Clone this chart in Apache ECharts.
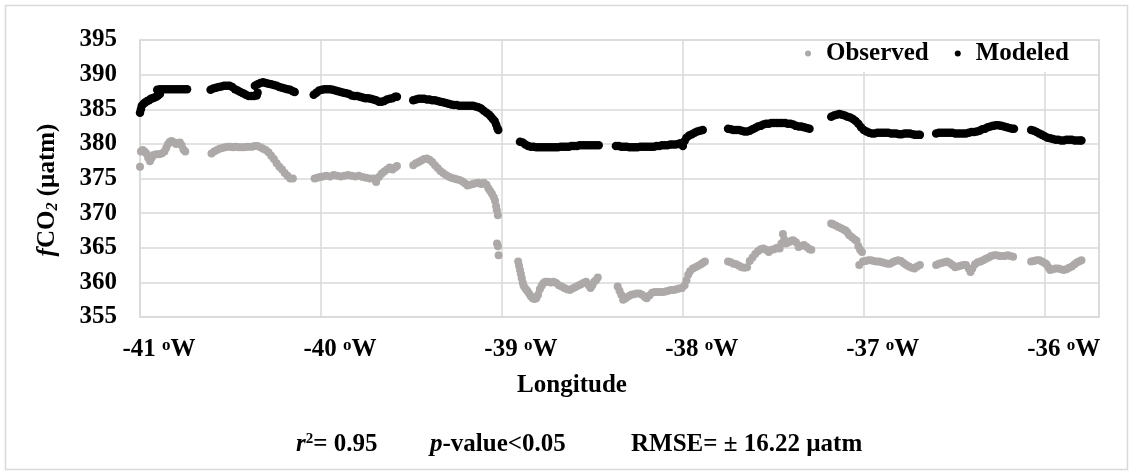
<!DOCTYPE html>
<html>
<head>
<meta charset="utf-8">
<script src="https://cdn.jsdelivr.net/npm/echarts@6/dist/echarts.min.js"></script>
<style>
html,body{margin:0;padding:0;background:#fff;}
#chart{width:1134px;height:475px;}
</style>
</head>
<body>
<div id="chart"></div>
<script>
// ---- Data (longitude in degrees, fCO2 in µatm) ----
const seriesNames = ['Observed', 'Modeled'];
const xTicks = [-41, -40, -39, -38, -37, -36];
const yTicks = [355, 360, 365, 370, 375, 380, 385, 390, 395];

const observed = [
 [-41.00,376.7],[-40.995,378.9],[-40.985,379.1],[-40.975,378.9],[-40.965,378.6],[-40.955,378.0],[-40.945,377.5],[-40.935,378.0],[-40.925,378.4],[-40.91,378.5],[-40.895,378.5],[-40.88,378.6],[-40.865,378.9],[-40.855,379.4],[-40.845,380.0],[-40.835,380.3],[-40.825,380.4],[-40.81,380.2],[-40.80,380.0],[-40.79,380.1],[-40.78,380.2],[-40.77,379.8],[-40.76,379.2],[-40.75,378.9],
 [-40.605,378.6],[-40.59,378.9],[-40.575,379.1],[-40.56,379.3],[-40.545,379.4],[-40.53,379.5],[-40.515,379.6],[-40.50,379.6],[-40.485,379.5],[-40.47,379.6],[-40.455,379.5],[-40.44,379.5],[-40.425,379.5],[-40.41,379.6],[-40.395,379.6],[-40.38,379.6],[-40.365,379.7],[-40.35,379.7],[-40.335,379.5],[-40.32,379.3],[-40.305,379.1],[-40.29,378.8],[-40.275,378.3],[-40.26,377.8],[-40.245,377.2],[-40.23,376.7],[-40.215,376.3],[-40.20,375.8],[-40.185,375.4],[-40.17,375.0],[-40.155,375.0],
 [-40.035,375.0],[-40.02,375.1],[-40.005,375.2],[-39.99,375.3],[-39.97,375.4],[-39.95,375.3],[-39.93,375.5],[-39.91,375.4],[-39.89,375.3],[-39.87,375.4],[-39.85,375.5],[-39.83,375.4],[-39.81,375.3],[-39.79,375.4],[-39.77,375.2],[-39.75,375.1],[-39.73,375.0],[-39.71,375.0],[-39.695,374.5],[-39.68,375.2],[-39.665,375.7],[-39.65,376.0],[-39.635,376.3],[-39.62,376.6],[-39.605,376.3],[-39.59,376.6],[-39.58,376.8],
 [-39.49,376.9],[-39.475,377.2],[-39.46,377.4],[-39.445,377.6],[-39.43,377.8],[-39.415,377.9],[-39.40,377.7],[-39.385,377.4],[-39.37,376.9],[-39.355,376.5],[-39.34,376.1],[-39.325,375.8],[-39.31,375.5],[-39.295,375.3],[-39.28,375.1],[-39.265,375.0],[-39.25,374.9],[-39.235,374.8],[-39.22,374.6],[-39.205,374.3],[-39.19,374.0],[-39.175,374.1],[-39.16,374.2],[-39.145,374.3],[-39.13,374.4],[-39.115,374.2],[-39.10,374.4],[-39.085,374.1],[-39.075,373.6],[-39.065,373.2],[-39.055,372.8],[-39.045,372.3],[-39.038,371.8],[-39.032,371.0],[-39.028,370.4],[-39.022,369.7],
 [-39.027,365.6],[-39.022,365.2],[-39.018,363.9],
 [-38.91,363.0],[-38.905,362.4],[-38.90,361.8],[-38.895,361.2],[-38.89,360.6],[-38.885,360.0],[-38.88,359.5],[-38.87,359.1],[-38.86,358.8],[-38.85,358.4],[-38.84,358.0],[-38.83,357.7],[-38.82,357.6],[-38.81,357.7],[-38.80,358.2],[-38.79,359.0],[-38.78,359.5],[-38.77,359.9],[-38.76,360.1],[-38.745,360.1],[-38.73,360.0],[-38.715,360.1],[-38.70,359.9],[-38.685,359.6],[-38.67,359.4],[-38.655,359.2],[-38.64,359.0],[-38.625,358.9],[-38.61,359.1],[-38.595,359.3],[-38.58,359.5],[-38.565,359.7],[-38.55,359.9],[-38.535,360.1],[-38.52,359.6],[-38.51,359.2],[-38.50,359.6],[-38.49,360.1],[-38.48,360.3],[-38.47,360.7],
 [-38.36,359.4],[-38.35,358.8],[-38.34,358.2],[-38.33,357.5],[-38.315,357.7],[-38.30,358.0],[-38.285,358.2],[-38.27,358.3],[-38.255,358.4],[-38.24,358.4],[-38.225,358.2],[-38.21,357.9],[-38.20,357.7],[-38.185,358.1],[-38.17,358.5],[-38.155,358.6],[-38.14,358.6],[-38.125,358.6],[-38.11,358.6],[-38.095,358.7],[-38.08,358.8],[-38.065,358.9],[-38.05,358.9],[-38.035,359.0],[-38.02,359.1],[-38.005,359.2],[-37.99,359.6],[-37.98,360.3],[-37.97,361.1],[-37.96,361.6],[-37.945,362.0],[-37.93,362.2],[-37.915,362.4],[-37.90,362.6],[-37.89,362.8],[-37.878,363.0],
 [-37.75,363.0],[-37.735,362.9],[-37.72,362.7],[-37.705,362.6],[-37.69,362.4],[-37.675,362.2],[-37.66,362.1],[-37.645,362.2],[-37.63,363.1],[-37.615,363.6],[-37.60,364.1],[-37.585,364.5],[-37.57,364.8],[-37.555,364.9],[-37.54,364.7],[-37.525,364.4],[-37.51,364.7],[-37.495,364.8],[-37.48,365.0],[-37.465,364.9],[-37.455,365.6],[-37.447,367.0],[-37.44,366.2],[-37.43,365.6],[-37.415,365.8],[-37.40,366.0],[-37.39,366.1],[-37.375,365.8],[-37.36,365.1],[-37.345,365.3],[-37.33,365.4],[-37.315,365.1],[-37.30,364.8],[-37.29,364.7],
 [-37.18,368.5],[-37.17,368.4],[-37.155,368.2],[-37.14,368.0],[-37.125,367.8],[-37.11,367.6],[-37.10,367.5],[-37.09,367.2],[-37.08,366.8],[-37.065,366.5],[-37.05,366.2],[-37.04,366.0],[-37.03,365.2],[-37.02,364.7],[-37.01,364.4],[-37.025,362.5],[-37.005,363.0],[-36.99,363.1],[-36.975,363.2],[-36.96,363.2],[-36.945,363.1],[-36.93,363.0],[-36.915,363.0],[-36.90,362.9],[-36.885,362.8],[-36.87,362.7],[-36.855,362.7],[-36.84,362.9],[-36.825,363.1],[-36.81,363.2],[-36.795,363.1],[-36.78,362.8],[-36.765,362.5],[-36.75,362.3],[-36.735,362.1],[-36.72,362.0],[-36.705,362.3],[-36.69,362.5],
 [-36.60,362.5],[-36.585,362.7],[-36.57,362.8],[-36.555,362.9],[-36.54,363.0],[-36.525,362.8],[-36.51,362.5],[-36.495,362.2],[-36.48,362.3],[-36.465,362.4],[-36.45,362.5],[-36.435,362.5],[-36.42,362.0],[-36.41,361.5],[-36.40,362.0],[-36.385,362.6],[-36.37,362.9],[-36.355,363.0],[-36.34,363.2],[-36.325,363.4],[-36.31,363.6],[-36.295,363.8],[-36.28,363.9],[-36.265,363.9],[-36.25,363.8],[-36.235,363.8],[-36.22,363.8],[-36.205,363.9],[-36.19,363.8],[-36.175,363.7],
 [-36.075,363.0],[-36.06,363.1],[-36.045,363.2],[-36.03,363.2],[-36.015,363.0],[-36.00,362.8],[-35.99,362.6],[-35.98,362.2],[-35.97,361.8],[-35.955,361.9],[-35.94,362.0],[-35.925,362.0],[-35.91,361.9],[-35.895,361.8],[-35.88,361.9],[-35.865,362.1],[-35.85,362.3],[-35.835,362.6],[-35.82,362.9],[-35.805,363.1],[-35.797,363.2]
];

const modeled = [
 [-41.00,384.5],[-40.995,385.0],[-40.99,385.5],[-40.98,385.8],[-40.97,386.0],[-40.96,386.2],[-40.95,386.3],[-40.94,386.5],[-40.93,386.6],[-40.92,386.7],[-40.91,386.8],[-40.90,387.0],[-40.89,387.2],[-40.905,387.8],[-40.89,387.9],[-40.875,387.9],[-40.86,387.9],[-40.845,387.9],[-40.83,387.9],[-40.815,387.9],[-40.80,387.9],[-40.785,387.9],[-40.77,387.9],[-40.755,387.9],[-40.74,387.9],
 [-40.61,387.8],[-40.595,388.0],[-40.58,388.1],[-40.565,388.2],[-40.55,388.3],[-40.535,388.4],[-40.52,388.4],[-40.505,388.4],[-40.49,388.2],[-40.475,387.9],[-40.46,387.7],[-40.445,387.5],[-40.43,387.3],[-40.415,387.1],[-40.40,386.9],[-40.385,386.9],[-40.37,386.9],[-40.355,387.0],[-40.35,387.4],
 [-40.365,388.4],[-40.35,388.6],[-40.335,388.8],[-40.32,388.9],[-40.305,388.8],[-40.29,388.7],[-40.275,388.6],[-40.26,388.5],[-40.245,388.4],[-40.23,388.2],[-40.215,388.1],[-40.20,388.0],[-40.185,387.9],[-40.17,387.8],[-40.155,387.6],[-40.145,387.5],
 [-40.04,387.1],[-40.025,387.4],[-40.01,387.7],[-39.995,387.8],[-39.98,387.9],[-39.965,387.9],[-39.95,387.9],[-39.935,387.8],[-39.92,387.7],[-39.905,387.6],[-39.89,387.5],[-39.875,387.4],[-39.86,387.3],[-39.845,387.2],[-39.83,387.0],[-39.815,386.9],[-39.80,386.9],[-39.785,386.8],[-39.77,386.7],[-39.755,386.6],[-39.74,386.6],[-39.725,386.5],[-39.71,386.4],[-39.695,386.3],[-39.68,386.1],[-39.665,386.1],[-39.65,386.2],[-39.635,386.4],[-39.62,386.5],[-39.605,386.6],[-39.59,386.8],[-39.58,386.8],
 [-39.49,386.3],[-39.475,386.4],[-39.46,386.5],[-39.445,386.5],[-39.43,386.5],[-39.415,386.4],[-39.40,386.4],[-39.385,386.3],[-39.37,386.3],[-39.355,386.2],[-39.34,386.1],[-39.325,386.0],[-39.31,385.9],[-39.295,385.8],[-39.28,385.7],[-39.265,385.6],[-39.25,385.6],[-39.235,385.5],[-39.22,385.5],[-39.205,385.5],[-39.19,385.5],[-39.175,385.5],[-39.16,385.5],[-39.145,385.4],[-39.13,385.3],[-39.115,385.1],[-39.10,384.8],[-39.085,384.5],[-39.07,384.2],[-39.06,383.9],[-39.05,383.6],[-39.04,383.3],[-39.032,382.8],[-39.025,382.3],[-39.02,382.0],
 [-38.90,380.3],[-38.885,380.2],[-38.87,379.9],[-38.855,379.7],[-38.84,379.6],[-38.825,379.6],[-38.81,379.5],[-38.795,379.5],[-38.78,379.5],[-38.765,379.5],[-38.75,379.5],[-38.735,379.5],[-38.72,379.5],[-38.705,379.5],[-38.69,379.5],[-38.675,379.6],[-38.66,379.6],[-38.645,379.6],[-38.63,379.6],[-38.615,379.7],[-38.60,379.7],[-38.585,379.7],[-38.57,379.8],[-38.555,379.8],[-38.54,379.8],[-38.525,379.8],[-38.51,379.8],[-38.495,379.8],[-38.48,379.8],[-38.465,379.8],
 [-38.37,379.7],[-38.355,379.7],[-38.34,379.6],[-38.325,379.6],[-38.31,379.6],[-38.295,379.5],[-38.28,379.5],[-38.265,379.5],[-38.25,379.5],[-38.235,379.6],[-38.22,379.6],[-38.205,379.6],[-38.19,379.6],[-38.175,379.6],[-38.16,379.6],[-38.145,379.7],[-38.13,379.7],[-38.115,379.8],[-38.10,379.8],[-38.085,379.8],[-38.07,379.9],[-38.055,379.9],[-38.04,379.9],[-38.025,380.0],[-38.015,380.1],[-38.00,379.7],[-37.99,380.4],[-37.98,380.9],[-37.965,381.2],[-37.95,381.4],[-37.935,381.6],[-37.92,381.8],[-37.905,381.9],[-37.89,382.0],
 [-37.75,382.2],[-37.735,382.1],[-37.72,382.0],[-37.705,382.0],[-37.69,382.0],[-37.675,381.9],[-37.66,381.8],[-37.645,381.8],[-37.63,381.9],[-37.615,382.1],[-37.60,382.3],[-37.585,382.5],[-37.57,382.6],[-37.555,382.8],[-37.54,382.9],[-37.525,382.9],[-37.51,383.0],[-37.495,383.0],[-37.48,383.0],[-37.465,383.0],[-37.45,383.0],[-37.435,383.0],[-37.42,382.9],[-37.405,382.9],[-37.39,382.8],[-37.375,382.6],[-37.36,382.5],[-37.345,382.5],[-37.33,382.4],[-37.315,382.3],[-37.30,382.2],
 [-37.18,383.9],[-37.165,384.1],[-37.15,384.2],[-37.135,384.3],[-37.12,384.2],[-37.105,384.1],[-37.09,383.9],[-37.075,383.8],[-37.06,383.6],[-37.045,383.3],[-37.03,382.9],[-37.015,382.4],[-37.00,382.0],[-36.985,381.8],[-36.97,381.6],[-36.955,381.5],[-36.94,381.5],[-36.925,381.6],[-36.91,381.6],[-36.895,381.6],[-36.88,381.6],[-36.865,381.6],[-36.85,381.5],[-36.835,381.5],[-36.82,381.5],[-36.805,381.4],[-36.79,381.4],[-36.775,381.5],[-36.76,381.5],[-36.745,381.5],[-36.73,381.4],[-36.715,381.3],[-36.70,381.3],[-36.69,381.3],
 [-36.60,381.5],[-36.585,381.6],[-36.57,381.6],[-36.555,381.6],[-36.54,381.6],[-36.525,381.6],[-36.51,381.6],[-36.495,381.5],[-36.48,381.5],[-36.465,381.5],[-36.45,381.5],[-36.435,381.5],[-36.42,381.6],[-36.405,381.7],[-36.39,381.7],[-36.375,381.8],[-36.36,381.9],[-36.345,382.1],[-36.33,382.2],[-36.315,382.4],[-36.30,382.5],[-36.285,382.6],[-36.27,382.7],[-36.255,382.7],[-36.24,382.6],[-36.225,382.5],[-36.21,382.4],[-36.195,382.3],[-36.18,382.2],[-36.17,382.2],
 [-36.075,382.0],[-36.06,381.9],[-36.045,381.7],[-36.03,381.5],[-36.015,381.3],[-36.00,381.1],[-35.985,380.9],[-35.97,380.8],[-35.955,380.7],[-35.94,380.6],[-35.925,380.6],[-35.91,380.5],[-35.895,380.5],[-35.88,380.6],[-35.865,380.6],[-35.85,380.6],[-35.835,380.5],[-35.82,380.5],[-35.805,380.5],[-35.797,380.5]
];

// ---- Chart ----
const FONT = '"Liberation Serif", "Times New Roman", serif';
const GRID_COLOR = '#d9d9d9';
const chart = echarts.init(document.getElementById('chart'), null, {renderer: 'canvas'});

chart.setOption({
  animation: false,
  backgroundColor: '#ffffff',
  textStyle: {fontFamily: FONT},
  grid: {
    left: 140, right: 35, top: 40, bottom: 158,
    containLabel: false,
    show: true, borderColor: GRID_COLOR, borderWidth: 1.5
  },
  legend: {
    data: seriesNames,
    left: 782, top: 41,
    padding: [0, 20, 6, 23],
    backgroundColor: '#ffffff',
    icon: 'circle',
    itemWidth: 26, itemHeight: 6, itemGap: 26,
    textStyle: {fontFamily: FONT, fontWeight: 'bold', fontSize: 25, color: '#000'}
  },
  xAxis: {
    type: 'value',
    min: xTicks[0], max: -35.7, interval: 1,
    axisLine: {show: false},
    axisTick: {show: false},
    splitLine: {show: true, lineStyle: {color: GRID_COLOR, width: 1.5}},
    axisLabel: {
      margin: 20,
      showMaxLabel: false,
      padding: [0, 0, 0, 38],
      formatter: v => xTicks.includes(v) ? '{a|' + v + ' }{s|o}{a|W}' : '',
      rich: {
        a: {fontFamily: FONT, fontWeight: 'bold', fontSize: 25, color: '#000', lineHeight: 26},
        s: {fontFamily: FONT, fontWeight: 'bold', fontSize: 17, color: '#000', lineHeight: 26, verticalAlign: 'top', padding: [0, 0, 9, 0]}
      }
    }
  },
  yAxis: {
    type: 'value',
    min: yTicks[0], max: yTicks[yTicks.length - 1], interval: 5,
    axisLine: {show: false},
    axisTick: {show: false},
    splitLine: {show: true, lineStyle: {color: GRID_COLOR, width: 1.5}},
    axisLabel: {margin: 23, fontFamily: FONT, fontWeight: 'bold', fontSize: 25, color: '#000'}
  },
  series: [
    {name: seriesNames[0], type: 'scatter', data: observed, symbol: 'circle', symbolSize: 8,
     itemStyle: {color: '#ADA9A9', opacity: 1}},
    {name: seriesNames[1], type: 'scatter', data: modeled, symbol: 'circle', symbolSize: 8.5,
     itemStyle: {color: '#000000', opacity: 1}}
  ],
  graphic: [
    {type: 'rect', z: -10, silent: true, shape: {x: 5.5, y: 5.5, width: 1122, height: 464},
     style: {fill: 'none', stroke: GRID_COLOR, lineWidth: 1.5}},
    {type: 'text', x: 48, y: 190, rotation: Math.PI / 2, silent: true,
     style: {
       text: '{i|f}{n|CO}{sub|2}{n| (µatm)}',
       align: 'center', verticalAlign: 'middle',
       rich: {
         i: {fontFamily: FONT, fontStyle: 'italic', fontWeight: 'bold', fontSize: 25, fill: '#000', lineHeight: 26},
         n: {fontFamily: FONT, fontWeight: 'bold', fontSize: 25, fill: '#000', lineHeight: 26},
         sub: {fontFamily: FONT, fontWeight: 'bold', fontStyle: 'italic', fontSize: 16, fill: '#000', lineHeight: 26, verticalAlign: 'bottom', padding: [8, 0, 0, 0]}
       }
     }},
    {type: 'text', x: 572, y: 386, silent: true,
     style: {text: 'Longitude', fontFamily: FONT, fontWeight: 'bold', fontSize: 25, fill: '#000', align: 'center', verticalAlign: 'middle'}},
    {type: 'text', x: 296, y: 445, silent: true,
     style: {
       text: '{i|r}{sup|2}{n|= 0.95}', align: 'left', verticalAlign: 'middle',
       rich: {
         i: {fontFamily: FONT, fontStyle: 'italic', fontWeight: 'bold', fontSize: 25, fill: '#000', lineHeight: 26},
         sup: {fontFamily: FONT, fontWeight: 'bold', fontSize: 15, fill: '#000', lineHeight: 26, verticalAlign: 'top', padding: [0, 0, 10, 0]},
         n: {fontFamily: FONT, fontWeight: 'bold', fontSize: 25, fill: '#000', lineHeight: 26}
       }
     }},
    {type: 'text', x: 430, y: 445, silent: true,
     style: {
       text: '{i|p}{n|-value<0.05}', align: 'left', verticalAlign: 'middle',
       rich: {
         i: {fontFamily: FONT, fontStyle: 'italic', fontWeight: 'bold', fontSize: 25, fill: '#000', lineHeight: 26},
         n: {fontFamily: FONT, fontWeight: 'bold', fontSize: 25, fill: '#000', lineHeight: 26}
       }
     }},
    {type: 'text', x: 631, y: 445, silent: true,
     style: {text: 'RMSE= ± 16.22 µatm', fontFamily: FONT, fontWeight: 'bold', fontSize: 25, fill: '#000', align: 'left', verticalAlign: 'middle'}}
  ]
});
</script>
</body>
</html>
